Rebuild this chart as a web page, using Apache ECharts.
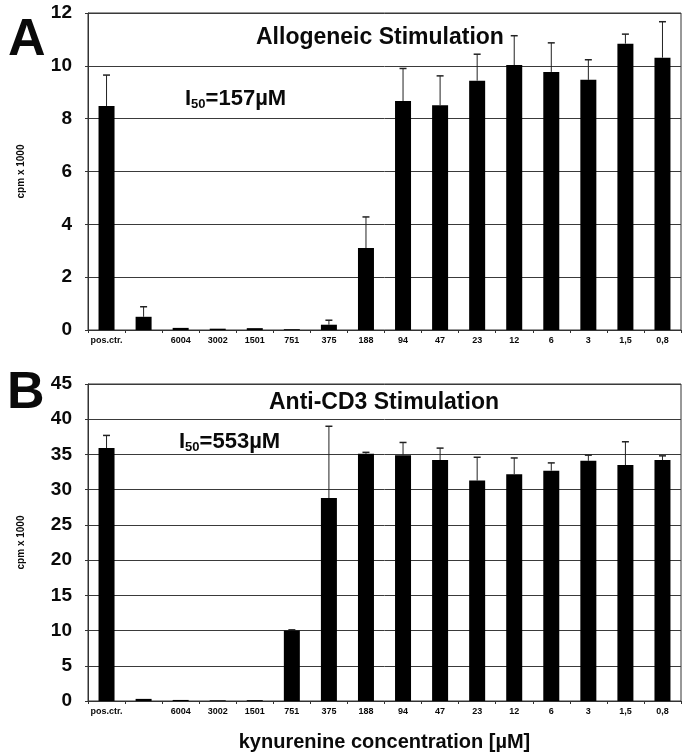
<!DOCTYPE html>
<html><head><meta charset="utf-8">
<script src="https://cdn.jsdelivr.net/npm/echarts@6/dist/echarts.min.js"></script>
<style>html,body{margin:0;padding:0;background:#fff}#c{width:686px;height:755px}</style>
</head><body><div id="c"></div>
<script>
const categories = ['pos.ctr.', '', '6004', '3002', '1501', '751', '375', '188', '94', '47', '23', '12', '6', '3', '1,5', '0,8'];
const allogeneicMean = [8.48, 0.5, 0.08, 0.05, 0.07, 0.03, 0.2, 3.1, 8.67, 8.51, 9.44, 10.03, 9.77, 9.47, 10.84, 10.31];
const allogeneicUpper = [9.65, 0.88, null, null, null, null, 0.37, 4.28, 9.9, 9.62, 10.44, 11.14, 10.87, 10.23, 11.2, 11.67];
const antiCD3Mean = [35.9, 0.3, 0.15, 0.1, 0.12, 10.0, 28.8, 35.1, 34.9, 34.2, 31.3, 32.2, 32.7, 34.1, 33.5, 34.2];
const antiCD3Upper = [37.7, null, null, null, null, 10.1, 39.0, 35.3, 36.7, 35.9, 34.6, 34.5, 33.8, 34.9, 36.8, 34.8];
const yTicksA = [0, 2, 4, 6, 8, 10, 12];
const yTicksB = [0, 5, 10, 15, 20, 25, 30, 35, 40, 45];

const chart = echarts.init(document.getElementById('c'));
const FONT = '"Liberation Sans", Arial, sans-serif';
const ink = '#0a0a0a';

function errSeries(upper, mean, idx) {
  const data = upper.map((u, i) => u == null ? null : [i, mean[i], u]).filter(d => d);
  return {
    type: 'custom', xAxisIndex: idx, yAxisIndex: idx, data: data, z: 1,
    renderItem: function (params, api) {
      const x = api.value(0);
      const p0 = api.coord([x, api.value(1)]);
      const p1 = api.coord([x, api.value(2)]);
      return { type: 'group', children: [
        { type: 'line', shape: { x1: p0[0], y1: p0[1], x2: p1[0], y2: p1[1] }, style: { stroke: '#222', lineWidth: 1 } },
        { type: 'line', shape: { x1: p1[0] - 3.5, y1: p1[1], x2: p1[0] + 3.5, y2: p1[1] }, style: { stroke: '#222', lineWidth: 1.5 } }
      ]};
    }
  };
}

function xAxis(idx, name) {
  return {
    type: 'category', gridIndex: idx, data: categories,
    axisLine: { lineStyle: { color: '#333', width: 1 } },
    axisTick: { show: true, length: 3, lineStyle: { color: '#333' } },
    axisLabel: { fontFamily: FONT, fontWeight: 'bold', fontSize: 9, color: ink, margin: 6, interval: 0 },
    name: name || '', nameLocation: 'middle', nameGap: 31,
    nameTextStyle: { fontFamily: FONT, fontWeight: 'bold', fontSize: 20, color: ink }
  };
}
function yAxis(idx, max, interval) {
  return {
    type: 'value', gridIndex: idx, min: 0, max: max, interval: interval,
    axisLine: { show: true, lineStyle: { color: '#333' } },
    axisTick: { show: true, length: 3, lineStyle: { color: '#333' } },
    splitLine: { show: true, lineStyle: { color: '#3a3a3a', width: 1 } },
    axisLabel: { fontFamily: FONT, fontWeight: 'bold', fontSize: 19, color: ink, margin: 16 },
    name: 'cpm x 1000', nameLocation: 'middle', nameGap: 62, nameRotate: 90,
    nameTextStyle: { fontFamily: FONT, fontWeight: 'bold', fontSize: 10, color: ink }
  };
}
const i50Rich = {
  a: { fontFamily: FONT, fontWeight: 'bold', fontSize: 22, color: ink },
  b: { fontFamily: FONT, fontWeight: 'bold', fontSize: 13, color: ink, padding: [11, 0, 0, 0] }
};

chart.setOption({
  animation: false,
  backgroundColor: '#fff',
  grid: [
    { left: 88, right: 5, top: 13, height: 317, show: true, borderColor: '#333', borderWidth: 1 },
    { left: 88, right: 5, top: 384, height: 317, show: true, borderColor: '#333', borderWidth: 1 }
  ],
  title: [
    { text: 'A', left: 3, top: 10, textStyle: { fontFamily: FONT, fontWeight: 'bold', fontSize: 52, color: ink } },
    { text: 'B', left: 2, top: 363, textStyle: { fontFamily: FONT, fontWeight: 'bold', fontSize: 52, color: ink } },
    { text: 'Allogeneic Stimulation', left: 251, top: 21, textStyle: { fontFamily: FONT, fontWeight: 'bold', fontSize: 23, color: ink } },
    { text: 'Anti-CD3 Stimulation', left: 264, top: 386, textStyle: { fontFamily: FONT, fontWeight: 'bold', fontSize: 23, color: ink } },
    { text: '{a|I}{b|50}{a|=157µM}', left: 180, top: 82, textStyle: { rich: i50Rich } },
    { text: '{a|I}{b|50}{a|=553µM}', left: 174, top: 425, textStyle: { rich: i50Rich } }
  ],
  xAxis: [xAxis(0), xAxis(1, 'kynurenine concentration [µM]')],
  yAxis: [yAxis(0, yTicksA[yTicksA.length - 1], yTicksA[1] - yTicksA[0]), yAxis(1, yTicksB[yTicksB.length - 1], yTicksB[1] - yTicksB[0])],
  series: [
    { type: 'bar', xAxisIndex: 0, yAxisIndex: 0, data: allogeneicMean, barWidth: 16, itemStyle: { color: '#000' }, z: 2 },
    errSeries(allogeneicUpper, allogeneicMean, 0),
    { type: 'bar', xAxisIndex: 1, yAxisIndex: 1, data: antiCD3Mean, barWidth: 16, itemStyle: { color: '#000' }, z: 2 },
    errSeries(antiCD3Upper, antiCD3Mean, 1)
  ]
});
</script>
</body></html>
